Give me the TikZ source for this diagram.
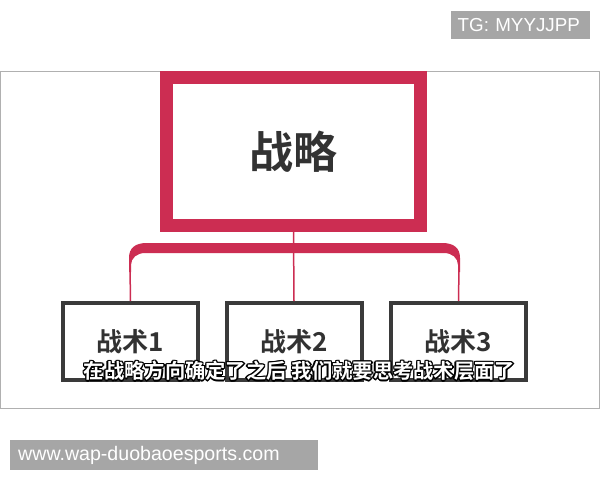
\documentclass[tikz,border=0pt]{standalone}
\usepackage{fontspec}
\setmainfont{Liberation Sans}
\newfontfamily\cjk{Noto Sans CJK SC}
\newfontfamily\cjkb{Noto Sans CJK SC Bold}
\definecolor{stratred}{RGB}{204,45,82}
\definecolor{boxgray}{RGB}{58,58,58}
\definecolor{txtgray}{RGB}{50,50,50}
\definecolor{wmgray}{RGB}{166,166,166}
\definecolor{framegray}{RGB}{176,176,176}
\newcommand{\outl}[1]{%
  \makebox[0pt][l]{\color{black}\raisebox{1pt}{\hspace*{1pt}#1}}%
  \makebox[0pt][l]{\color{black}\raisebox{-1pt}{\hspace*{1pt}#1}}%
  \makebox[0pt][l]{\color{black}\raisebox{1pt}{\hspace*{-1pt}#1}}%
  \makebox[0pt][l]{\color{black}\raisebox{-1pt}{\hspace*{-1pt}#1}}%
  \makebox[0pt][l]{\color{black}\raisebox{0pt}{\hspace*{1.3pt}#1}}%
  \makebox[0pt][l]{\color{black}\raisebox{0pt}{\hspace*{-1.3pt}#1}}%
  \makebox[0pt][l]{\color{black}\raisebox{1.3pt}{#1}}%
  \makebox[0pt][l]{\color{black}\raisebox{-1.3pt}{#1}}%
  {\color{white}#1}}
\begin{document}
\begin{tikzpicture}[x=1pt,y=-1pt,
  topbox/.style={draw=stratred,line width=13pt,fill=white,minimum width=254pt,minimum height=148pt,inner sep=0pt,
     font=\cjkb\fontsize{44}{48}\selectfont,text=txtgray},
  childbox/.style={draw=boxgray,line width=4pt,fill=white,minimum width=135pt,minimum height=77pt,inner sep=0pt,
     font=\cjkb\fontsize{26}{30}\selectfont,text=txtgray},
  wmbox/.style={fill=wmgray,text=white,inner sep=0pt,anchor=north west},
  link/.style={draw=stratred,line width=1.5pt}]
\useasboundingbox (0,0) rectangle (600,480);
\fill[white] (0,0) rectangle (600,480);
% frame
\draw[framegray,line width=1pt] (0.5,71) rectangle (599.5,408);
% boxes
\node[topbox] (top) at (293.5,151.5) {战略};
\node[childbox] (c1) at (130.5,341.5) {战术1};
\node[childbox] (c2) at (294,341.5) {战术2};
\node[childbox] (c3) at (458.5,341.5) {战术3};
% bracket
\fill[stratred] (129,272) -- (129,258) .. controls (129,248) and (135,243) .. (147,243) -- (442,243)
  .. controls (454,243) and (460,248) .. (460,258) -- (460,272) -- (458,272) -- (458,265)
  .. controls (458,258) and (452,253) .. (444,253) -- (145,253)
  .. controls (137,253) and (131,258) .. (131,265) -- (131,272) -- cycle;
\coordinate (bl) at (130,268);
\coordinate (br) at (459,268);
\draw[link] (top.south) -- (c2.north);
\draw[link] (bl) -- (c1.north);
\draw[link] (br) -- (c3.north);
% subtitle
\node[font=\cjkb\fontsize{20.3}{22}\selectfont,inner sep=0pt] (sub) at (299.5,371) {\outl{在战略方向确定了之后\hspace{5pt}我们就要思考战术层面了}};
% watermarks
\node[wmbox,minimum width=139pt,minimum height=28pt,text width=134pt,align=left,font=\fontsize{18.8}{20}\selectfont] (tg) at (451,11) {\hspace*{4pt}TG: MYYJJPP};
\node[wmbox,minimum width=308pt,minimum height=30pt,text width=304pt,align=left,font=\fontsize{19.6}{21}\selectfont] (www) at (10,440) {\hspace*{6pt}www.wap-duobaoesports.com};
\end{tikzpicture}
\end{document}
